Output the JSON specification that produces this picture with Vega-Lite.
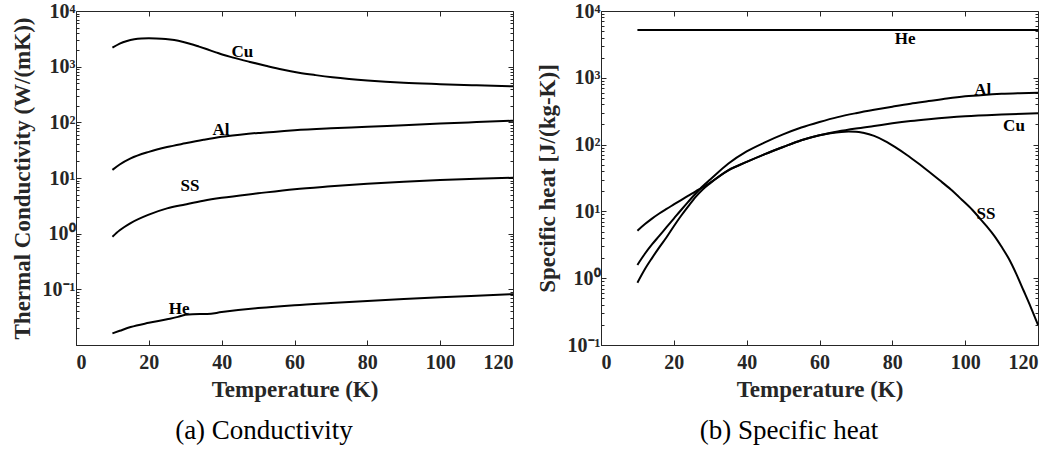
{
  "$schema": "https://vega.github.io/schema/vega-lite/v6.json",
  "background": "white",
  "padding": {"left": 10, "top": 0, "right": 5, "bottom": 5},
  "spacing": 17,
  "config": {
    "font": "Liberation Serif",
    "view": {"stroke": "#262626", "strokeWidth": 1},
    "axis": {"grid": false, "labelFont": "Liberation Serif", "labelFontWeight": "bold", "labelFontSize": 20, "labelColor": "#262626", "titleFont": "Liberation Serif", "titleFontWeight": "bold", "titleFontSize": 23, "titleColor": "#262626", "domainColor": "#262626", "tickColor": "#262626", "domainWidth": 1, "tickWidth": 1}
  },
  "datasets": {
    "k": [
      {"T": 10, "v": 2190, "m": "Cu"}, {"T": 12, "v": 2600, "m": "Cu"}, {"T": 14, "v": 2900, "m": "Cu"}, {"T": 16, "v": 3100, "m": "Cu"}, {"T": 18, "v": 3200, "m": "Cu"}, {"T": 20, "v": 3230, "m": "Cu"}, {"T": 22, "v": 3210, "m": "Cu"}, {"T": 24.6, "v": 3140, "m": "Cu"}, {"T": 27, "v": 3000, "m": "Cu"}, {"T": 29.2, "v": 2810, "m": "Cu"}, {"T": 31.5, "v": 2560, "m": "Cu"}, {"T": 33.8, "v": 2290, "m": "Cu"}, {"T": 36, "v": 2050, "m": "Cu"}, {"T": 38.4, "v": 1810, "m": "Cu"}, {"T": 40.6, "v": 1620, "m": "Cu"}, {"T": 42.9, "v": 1470, "m": "Cu"}, {"T": 47.5, "v": 1230, "m": "Cu"}, {"T": 52.1, "v": 1040, "m": "Cu"}, {"T": 56.6, "v": 890, "m": "Cu"}, {"T": 61.2, "v": 780, "m": "Cu"}, {"T": 65.8, "v": 705, "m": "Cu"}, {"T": 70.4, "v": 645, "m": "Cu"}, {"T": 75, "v": 600, "m": "Cu"}, {"T": 80, "v": 563, "m": "Cu"}, {"T": 85, "v": 535, "m": "Cu"}, {"T": 90, "v": 513, "m": "Cu"}, {"T": 100, "v": 485, "m": "Cu"}, {"T": 110, "v": 462, "m": "Cu"}, {"T": 120, "v": 443, "m": "Cu"},
      {"T": 10, "v": 14, "m": "Al"}, {"T": 12, "v": 17.5, "m": "Al"}, {"T": 15, "v": 22.5, "m": "Al"}, {"T": 20, "v": 29.5, "m": "Al"}, {"T": 25, "v": 36, "m": "Al"}, {"T": 30, "v": 42, "m": "Al"}, {"T": 35, "v": 48.5, "m": "Al"}, {"T": 40, "v": 55, "m": "Al"}, {"T": 45, "v": 60, "m": "Al"}, {"T": 50, "v": 64.5, "m": "Al"}, {"T": 55, "v": 68, "m": "Al"}, {"T": 60, "v": 72, "m": "Al"}, {"T": 70, "v": 78, "m": "Al"}, {"T": 80, "v": 83, "m": "Al"}, {"T": 90, "v": 89, "m": "Al"}, {"T": 100, "v": 95, "m": "Al"}, {"T": 110, "v": 101, "m": "Al"}, {"T": 120, "v": 107, "m": "Al"},
      {"T": 10, "v": 0.88, "m": "SS"}, {"T": 12, "v": 1.15, "m": "SS"}, {"T": 15, "v": 1.55, "m": "SS"}, {"T": 20, "v": 2.2, "m": "SS"}, {"T": 25, "v": 2.85, "m": "SS"}, {"T": 30, "v": 3.35, "m": "SS"}, {"T": 35, "v": 3.9, "m": "SS"}, {"T": 40, "v": 4.4, "m": "SS"}, {"T": 50, "v": 5.3, "m": "SS"}, {"T": 60, "v": 6.3, "m": "SS"}, {"T": 70, "v": 7.1, "m": "SS"}, {"T": 80, "v": 7.9, "m": "SS"}, {"T": 90, "v": 8.6, "m": "SS"}, {"T": 100, "v": 9.2, "m": "SS"}, {"T": 110, "v": 9.7, "m": "SS"}, {"T": 120, "v": 10.1, "m": "SS"},
      {"T": 10, "v": 0.0162, "m": "He"}, {"T": 12, "v": 0.018, "m": "He"}, {"T": 15, "v": 0.021, "m": "He"}, {"T": 20, "v": 0.025, "m": "He"}, {"T": 25, "v": 0.029, "m": "He"}, {"T": 28, "v": 0.032, "m": "He"}, {"T": 30, "v": 0.035, "m": "He"}, {"T": 32, "v": 0.0358, "m": "He"}, {"T": 36, "v": 0.036, "m": "He"}, {"T": 40, "v": 0.039, "m": "He"}, {"T": 50, "v": 0.046, "m": "He"}, {"T": 60, "v": 0.052, "m": "He"}, {"T": 70, "v": 0.057, "m": "He"}, {"T": 80, "v": 0.062, "m": "He"}, {"T": 90, "v": 0.067, "m": "He"}, {"T": 100, "v": 0.072, "m": "He"}, {"T": 110, "v": 0.077, "m": "He"}, {"T": 120, "v": 0.082, "m": "He"}
    ],
    "kl": [
      {"T": 45.7, "v": 1858, "m": "Cu"}, {"T": 39.8, "v": 72.8, "m": "Al"}, {"T": 31.3, "v": 7.2, "m": "SS"}, {"T": 28.3, "v": 0.0444, "m": "He"}
    ],
    "c": [
      {"T": 10, "v": 5200, "m": "He"}, {"T": 120, "v": 5200, "m": "He"},
      {"T": 10, "v": 1.58, "m": "Al"}, {"T": 12, "v": 2.3, "m": "Al"}, {"T": 14, "v": 3.2, "m": "Al"}, {"T": 16, "v": 4.3, "m": "Al"}, {"T": 18, "v": 5.8, "m": "Al"}, {"T": 20, "v": 7.8, "m": "Al"}, {"T": 22, "v": 10.5, "m": "Al"}, {"T": 24, "v": 14, "m": "Al"}, {"T": 26, "v": 18.5, "m": "Al"}, {"T": 28, "v": 24, "m": "Al"}, {"T": 30, "v": 30, "m": "Al"}, {"T": 35, "v": 52, "m": "Al"}, {"T": 40, "v": 79, "m": "Al"}, {"T": 45, "v": 108, "m": "Al"}, {"T": 50, "v": 142, "m": "Al"}, {"T": 55, "v": 180, "m": "Al"}, {"T": 60, "v": 218, "m": "Al"}, {"T": 65, "v": 258, "m": "Al"}, {"T": 70, "v": 295, "m": "Al"}, {"T": 75, "v": 332, "m": "Al"}, {"T": 80, "v": 370, "m": "Al"}, {"T": 85, "v": 410, "m": "Al"}, {"T": 90, "v": 448, "m": "Al"}, {"T": 95, "v": 490, "m": "Al"}, {"T": 100, "v": 528, "m": "Al"}, {"T": 105, "v": 555, "m": "Al"}, {"T": 110, "v": 575, "m": "Al"}, {"T": 115, "v": 588, "m": "Al"}, {"T": 120, "v": 598, "m": "Al"},
      {"T": 10, "v": 0.857, "m": "Cu"}, {"T": 12, "v": 1.35, "m": "Cu"}, {"T": 14, "v": 2.0, "m": "Cu"}, {"T": 16, "v": 2.9, "m": "Cu"}, {"T": 18, "v": 4.1, "m": "Cu"}, {"T": 20, "v": 6.0, "m": "Cu"}, {"T": 22, "v": 8.6, "m": "Cu"}, {"T": 24, "v": 12, "m": "Cu"}, {"T": 26, "v": 16.5, "m": "Cu"}, {"T": 28, "v": 21.5, "m": "Cu"}, {"T": 30, "v": 26.5, "m": "Cu"}, {"T": 35, "v": 41.5, "m": "Cu"}, {"T": 40, "v": 55, "m": "Cu"}, {"T": 45, "v": 72, "m": "Cu"}, {"T": 50, "v": 92, "m": "Cu"}, {"T": 55, "v": 116, "m": "Cu"}, {"T": 60, "v": 138, "m": "Cu"}, {"T": 65, "v": 157, "m": "Cu"}, {"T": 70, "v": 174, "m": "Cu"}, {"T": 75, "v": 190, "m": "Cu"}, {"T": 80, "v": 208, "m": "Cu"}, {"T": 85, "v": 225, "m": "Cu"}, {"T": 90, "v": 240, "m": "Cu"}, {"T": 100, "v": 266, "m": "Cu"}, {"T": 110, "v": 282, "m": "Cu"}, {"T": 120, "v": 294, "m": "Cu"},
      {"T": 10, "v": 5.14, "m": "SS"}, {"T": 12, "v": 6.4, "m": "SS"}, {"T": 14, "v": 7.8, "m": "SS"}, {"T": 16, "v": 9.3, "m": "SS"}, {"T": 18, "v": 10.9, "m": "SS"}, {"T": 20, "v": 12.7, "m": "SS"}, {"T": 22, "v": 14.8, "m": "SS"}, {"T": 24, "v": 17.2, "m": "SS"}, {"T": 26, "v": 20, "m": "SS"}, {"T": 28, "v": 23, "m": "SS"}, {"T": 30, "v": 27, "m": "SS"}, {"T": 35, "v": 41, "m": "SS"}, {"T": 40, "v": 55, "m": "SS"}, {"T": 45, "v": 72, "m": "SS"}, {"T": 50, "v": 92, "m": "SS"}, {"T": 55, "v": 116, "m": "SS"}, {"T": 60, "v": 138, "m": "SS"}, {"T": 63, "v": 148, "m": "SS"}, {"T": 66, "v": 155, "m": "SS"}, {"T": 68, "v": 157, "m": "SS"}, {"T": 70, "v": 156, "m": "SS"}, {"T": 72, "v": 150, "m": "SS"}, {"T": 75, "v": 135, "m": "SS"}, {"T": 78, "v": 113, "m": "SS"}, {"T": 81, "v": 90, "m": "SS"}, {"T": 84, "v": 70, "m": "SS"}, {"T": 87, "v": 53, "m": "SS"}, {"T": 90, "v": 39.5, "m": "SS"}, {"T": 93, "v": 29.2, "m": "SS"}, {"T": 96, "v": 21.4, "m": "SS"}, {"T": 99, "v": 15.1, "m": "SS"}, {"T": 102, "v": 10.5, "m": "SS"}, {"T": 104, "v": 7.9, "m": "SS"}, {"T": 106, "v": 5.9, "m": "SS"}, {"T": 108, "v": 4.3, "m": "SS"}, {"T": 110, "v": 2.95, "m": "SS"}, {"T": 112, "v": 1.95, "m": "SS"}, {"T": 114, "v": 1.17, "m": "SS"}, {"T": 116, "v": 0.66, "m": "SS"}, {"T": 118, "v": 0.37, "m": "SS"}, {"T": 120, "v": 0.2, "m": "SS"}
    ],
    "cl": [
      {"T": 83.5, "v": 3810, "m": "He"}, {"T": 104.8, "v": 668, "m": "Al"}, {"T": 113.4, "v": 190, "m": "Cu"}, {"T": 105.7, "v": 9.3, "m": "SS"}
    ]
  },
  "hconcat": [
    {
      "width": 437,
      "height": 334,
      "title": {"text": "(a) Conductivity", "orient": "bottom", "anchor": "middle", "frame": "bounds", "font": "Liberation Serif", "fontSize": 27, "fontWeight": "normal", "color": "black", "offset": 17},
      "data": {"name": "k"},
      "layer": [
        {
          "mark": {"type": "line", "color": "black", "strokeWidth": 2, "interpolate": "monotone"},
          "encoding": {
            "x": {"field": "T", "type": "quantitative", "scale": {"domain": [0, 120], "nice": false}, "axis": {"orient": "bottom", "values": [0, 20, 40, 60, 80, 100, 120], "tickSize": -5, "format": "d", "labelPadding": 12, "titlePadding": 6, "title": "Temperature (K)", "labelFont": "Liberation Serif", "titleFont": "Liberation Serif", "labelFontWeight": "bold", "titleFontWeight": "bold"}},
            "y": {"field": "v", "type": "quantitative", "scale": {"type": "log", "domain": [0.01, 10000], "nice": false}, "axis": {"orient": "left", "values": [0.1, 1, 10, 100, 1000, 10000], "tickSize": -5, "labelPadding": 6, "titlePadding": 8, "title": "Thermal Conductivity (W/(mK))", "labelFont": "Liberation Serif", "titleFont": "Liberation Serif", "labelFontWeight": "bold", "titleFontWeight": "bold", "labelExpr": "datum.value >= 9999 ? '10⁴' : datum.value >= 999 ? '10³' : datum.value >= 99 ? '10²' : datum.value >= 9 ? '10¹' : datum.value >= 0.9 ? '10⁰' : datum.value >= 0.09 ? '10⁻¹' : '10⁻²'"}},
            "detail": {"field": "m"}
          }
        },
        {
          "mark": {"type": "line", "opacity": 0},
          "encoding": {
            "x": {"field": "T", "type": "quantitative", "axis": {"orient": "top", "values": [20, 40, 60, 80, 100], "tickSize": -5, "labels": false, "domain": false, "title": null}},
            "y": {"field": "v", "type": "quantitative", "axis": {"orient": "right", "values": [0.1, 1, 10, 100, 1000, 10000], "tickSize": -5, "labels": false, "domain": false, "title": null}},
            "detail": {"field": "m"}
          }
        },
        {
          "mark": {"type": "line", "opacity": 0},
          "encoding": {
            "x": {"field": "T", "type": "quantitative", "axis": null},
            "y": {"field": "v", "type": "quantitative", "axis": {"orient": "left", "values": [0.02, 0.03, 0.04, 0.05, 0.06, 0.07, 0.08, 0.09, 0.2, 0.3, 0.4, 0.5, 0.6, 0.7, 0.8, 0.9, 2, 3, 4, 5, 6, 7, 8, 9, 20, 30, 40, 50, 60, 70, 80, 90, 200, 300, 400, 500, 600, 700, 800, 900, 2000, 3000, 4000, 5000, 6000, 7000, 8000, 9000], "tickSize": -3, "labels": false, "domain": false, "title": null}},
            "detail": {"field": "m"}
          }
        },
        {
          "mark": {"type": "line", "opacity": 0},
          "encoding": {
            "x": {"field": "T", "type": "quantitative", "axis": null},
            "y": {"field": "v", "type": "quantitative", "axis": {"orient": "right", "values": [0.02, 0.03, 0.04, 0.05, 0.06, 0.07, 0.08, 0.09, 0.2, 0.3, 0.4, 0.5, 0.6, 0.7, 0.8, 0.9, 2, 3, 4, 5, 6, 7, 8, 9, 20, 30, 40, 50, 60, 70, 80, 90, 200, 300, 400, 500, 600, 700, 800, 900, 2000, 3000, 4000, 5000, 6000, 7000, 8000, 9000], "tickSize": -3, "labels": false, "domain": false, "title": null}},
            "detail": {"field": "m"}
          }
        },
        {
          "data": {"name": "kl"},
          "mark": {"type": "text", "font": "Liberation Serif", "fontWeight": "bold", "fontSize": 17, "color": "black"},
          "encoding": {
            "x": {"field": "T", "type": "quantitative", "axis": null},
            "y": {"field": "v", "type": "quantitative", "axis": null},
            "text": {"field": "m"}
          }
        }
      ],
      "resolve": {"axis": {"x": "independent", "y": "independent"}}
    },
    {
      "width": 437,
      "height": 334,
      "title": {"text": "(b) Specific heat", "orient": "bottom", "anchor": "middle", "frame": "bounds", "font": "Liberation Serif", "fontSize": 27, "fontWeight": "normal", "color": "black", "offset": 17},
      "data": {"name": "c"},
      "layer": [
        {
          "mark": {"type": "line", "color": "black", "strokeWidth": 2, "interpolate": "monotone"},
          "encoding": {
            "x": {"field": "T", "type": "quantitative", "scale": {"domain": [0, 120], "nice": false}, "axis": {"orient": "bottom", "values": [0, 20, 40, 60, 80, 100, 120], "tickSize": -5, "format": "d", "labelPadding": 12, "titlePadding": 6, "title": "Temperature (K)", "labelFont": "Liberation Serif", "titleFont": "Liberation Serif", "labelFontWeight": "bold", "titleFontWeight": "bold"}},
            "y": {"field": "v", "type": "quantitative", "scale": {"type": "log", "domain": [0.1, 10000], "nice": false}, "axis": {"orient": "left", "values": [0.1, 1, 10, 100, 1000, 10000], "tickSize": -5, "labelPadding": 6, "titlePadding": 8, "title": "Specific heat [J/(kg-K)]", "labelFont": "Liberation Serif", "titleFont": "Liberation Serif", "labelFontWeight": "bold", "titleFontWeight": "bold", "labelExpr": "datum.value >= 9999 ? '10⁴' : datum.value >= 999 ? '10³' : datum.value >= 99 ? '10²' : datum.value >= 9 ? '10¹' : datum.value >= 0.9 ? '10⁰' : '10⁻¹'"}},
            "detail": {"field": "m"}
          }
        },
        {
          "mark": {"type": "line", "opacity": 0},
          "encoding": {
            "x": {"field": "T", "type": "quantitative", "axis": {"orient": "top", "values": [20, 40, 60, 80, 100], "tickSize": -5, "labels": false, "domain": false, "title": null}},
            "y": {"field": "v", "type": "quantitative", "axis": {"orient": "right", "values": [0.1, 1, 10, 100, 1000, 10000], "tickSize": -5, "labels": false, "domain": false, "title": null}},
            "detail": {"field": "m"}
          }
        },
        {
          "mark": {"type": "line", "opacity": 0},
          "encoding": {
            "x": {"field": "T", "type": "quantitative", "axis": null},
            "y": {"field": "v", "type": "quantitative", "axis": {"orient": "left", "values": [0.2, 0.3, 0.4, 0.5, 0.6, 0.7, 0.8, 0.9, 2, 3, 4, 5, 6, 7, 8, 9, 20, 30, 40, 50, 60, 70, 80, 90, 200, 300, 400, 500, 600, 700, 800, 900, 2000, 3000, 4000, 5000, 6000, 7000, 8000, 9000], "tickSize": -3, "labels": false, "domain": false, "title": null}},
            "detail": {"field": "m"}
          }
        },
        {
          "mark": {"type": "line", "opacity": 0},
          "encoding": {
            "x": {"field": "T", "type": "quantitative", "axis": null},
            "y": {"field": "v", "type": "quantitative", "axis": {"orient": "right", "values": [0.2, 0.3, 0.4, 0.5, 0.6, 0.7, 0.8, 0.9, 2, 3, 4, 5, 6, 7, 8, 9, 20, 30, 40, 50, 60, 70, 80, 90, 200, 300, 400, 500, 600, 700, 800, 900, 2000, 3000, 4000, 5000, 6000, 7000, 8000, 9000], "tickSize": -3, "labels": false, "domain": false, "title": null}},
            "detail": {"field": "m"}
          }
        },
        {
          "data": {"name": "cl"},
          "mark": {"type": "text", "font": "Liberation Serif", "fontWeight": "bold", "fontSize": 17, "color": "black"},
          "encoding": {
            "x": {"field": "T", "type": "quantitative", "axis": null},
            "y": {"field": "v", "type": "quantitative", "axis": null},
            "text": {"field": "m"}
          }
        }
      ],
      "resolve": {"axis": {"x": "independent", "y": "independent"}}
    }
  ]
}
